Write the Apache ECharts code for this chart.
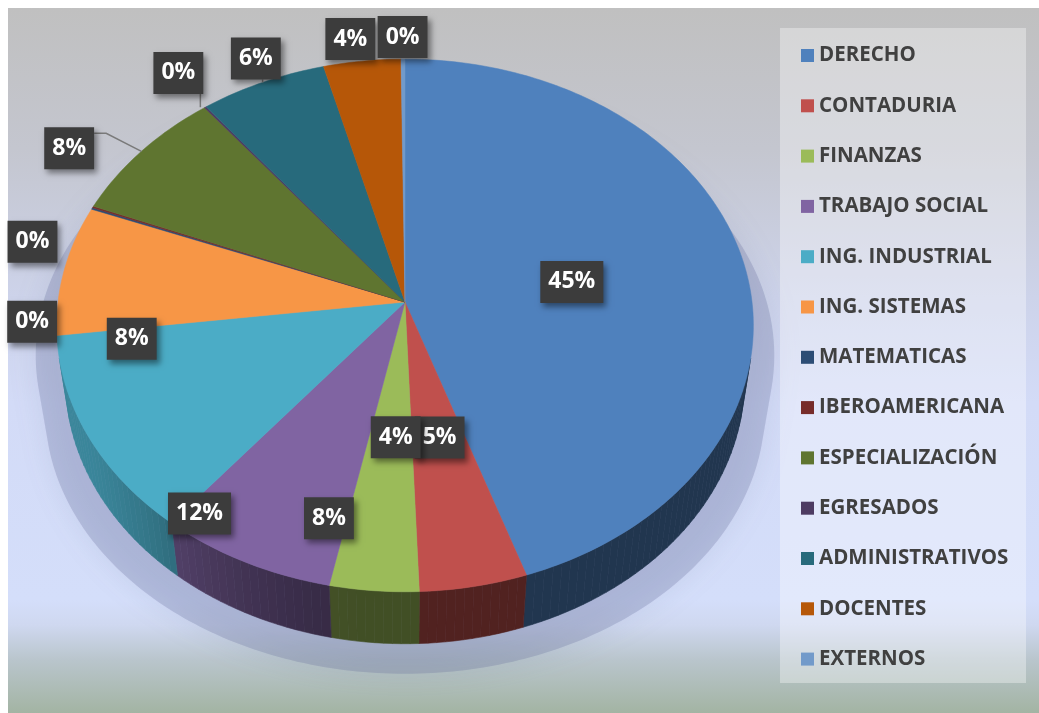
<!DOCTYPE html>
<html>
<head>
<meta charset="utf-8">
<script src="https://cdn.jsdelivr.net/npm/echarts@6/dist/echarts.min.js"></script>
<style>
  html, body { margin: 0; padding: 0; background: #ffffff; }
  #chart { width: 1039px; height: 713px; }
</style>
</head>
<body>
<div id="chart"></div>
<script>
// Respondents by group, in percent of the total
const categories = ['DERECHO', 'CONTADURIA', 'FINANZAS', 'TRABAJO SOCIAL', 'ING. INDUSTRIAL',
  'ING. SISTEMAS', 'MATEMATICAS', 'IBEROAMERICANA', 'ESPECIALIZACIÓN', 'EGRESADOS',
  'ADMINISTRATIVOS', 'DOCENTES', 'EXTERNOS'];
const shares = [44.8, 4.6, 3.8, 7.6, 12.2, 7.9, 0.1, 0.1, 8.3, 0.1, 6.4, 3.9, 0.2];
const colors = ['#4f81bd', '#c0504d', '#9bbb59', '#8064a2', '#4bacc6', '#f79646', '#2c4d75',
  '#772c2a', '#5f7530', '#4d3b62', '#276a7c', '#b65708', '#729aca'];

// Label anchor for each slice: [radius fraction, angle in degrees clockwise from 12 o'clock]
const labelPlace = [[0.49, 81], [0.5, 169], [0.49, 183], [0.79, 195], [0.93, 216.5], [0.79, 260],
  [1.07, 266], [1.12, 282], [1.19, 301], [1.175, 323], [1.107, 335], [1.104, 351], [1.1, 359.6]];
const hasLeader = [false, false, false, false, false, false, false, false, true, true, true, false, false];

// ---- slice angles from the values ----
const total = shares.reduce((a, b) => a + b, 0);
const bounds = [];
(function () {
  let acc = 0;
  shares.forEach(v => { const a0 = acc / total * 360; acc += v; bounds.push([a0, acc / total * 360]); });
})();
const pctText = v => Math.round(v / total * 100) + '%';

// ---- perspective view of a flat cylinder (radius 1, height H) ----
const VIEW = { cx: 405, cy: 302, D: 7.36, f: 2554, tilt: 49.6, H: 0.25 };
const SP = Math.sin(VIEW.tilt * Math.PI / 180), CP = Math.cos(VIEW.tilt * Math.PI / 180);
function project(r, deg, y) {
  const t = deg * Math.PI / 180;
  const X = r * Math.sin(t), Z = r * Math.cos(t);
  const yc = y * CP + Z * SP;
  const zc = VIEW.D + Z * CP - y * SP;
  return [VIEW.cx + VIEW.f * X / zc, VIEW.cy - VIEW.f * yc / zc];
}
// outer wall faces the viewer where cos(theta) < -1/(D cos(tilt))
const VIS = Math.acos(-1 / (VIEW.D * CP)) * 180 / Math.PI;
const visMin = VIS, visMax = 360 - VIS;

function shade(hex, k) {
  const n = parseInt(hex.slice(1), 16);
  const r = Math.round(((n >> 16) & 255) * k), g = Math.round(((n >> 8) & 255) * k), b = Math.round((n & 255) * k);
  return 'rgb(' + r + ',' + g + ',' + b + ')';
}
function wallFactor(deg) {
  let t = Math.min(1, Math.max(0, (deg - 185) / 60));
  t = t * t * (3 - 2 * t);
  return 0.42 + 0.36 * t;
}

function arcPoints(a0, a1, r, y) {
  const pts = [];
  const n = Math.max(1, Math.ceil((a1 - a0) / 1));
  for (let k = 0; k <= n; k++) pts.push(project(r, a0 + (a1 - a0) * k / n, y));
  return pts;
}

// soft floor shadow under the solid
function silhouette() {
  const pts = [];
  for (let d = 0; d < 360; d += 1) {
    const onTop = Math.cos(d * Math.PI / 180) > -1 / (VIEW.D * CP);
    const p = project(1, d, onTop ? 0 : -VIEW.H);
    pts.push([VIEW.cx + (p[0] - VIEW.cx) * 1.06, p[1] + 30]);
  }
  return pts;
}

function renderItem(params, api) {
  const i = params.dataIndex;
  const [a0, a1] = bounds[i];
  const children = [];

  if (i === 0) {
    children.push({
      type: 'polygon', z2: -5, silent: true,
      shape: { points: silhouette() },
      style: { fill: 'rgba(95,105,150,0.26)', shadowBlur: 30, shadowColor: 'rgba(95,105,150,0.5)' }
    });
  }

  // outer wall
  const w0 = Math.max(a0, visMin), w1 = Math.min(a1, visMax);
  if (w1 > w0) {
    const n = Math.max(1, Math.ceil((w1 - w0) / 1.5));
    for (let k = 0; k < n; k++) {
      const s = w0 + (w1 - w0) * k / n, e = w0 + (w1 - w0) * (k + 1) / n;
      const c = shade(colors[i], wallFactor((s + e) / 2));
      children.push({
        type: 'polygon', z2: 1,
        shape: { points: [project(1, s, 0), project(1, e, 0), project(1, e, -VIEW.H), project(1, s, -VIEW.H)] },
        style: { fill: c, stroke: c, lineWidth: 0.6 }
      });
    }
  }

  // top face
  const top = [project(0, 0, 0)].concat(arcPoints(a0, a1, 1, 0));
  children.push({
    type: 'polygon', z2: 5,
    shape: { points: top },
    style: { fill: colors[i], stroke: colors[i], lineWidth: 0.5 }
  });

  // value label
  const lp = project(labelPlace[i][0], labelPlace[i][1], 0);
  const boxH = 42;
  children.push({
    type: 'text', z2: 20, x: lp[0], y: lp[1],
    style: {
      text: pctText(shares[i]),
      fill: '#ffffff',
      font: 'bold 23px "Open Sans"',
      lineHeight: 26,
      align: 'center', verticalAlign: 'middle',
      backgroundColor: '#3c3c3c',
      padding: [8, 8, 8, 8],
      shadowBlur: 6, shadowOffsetX: 3, shadowOffsetY: 4, shadowColor: 'rgba(0,0,0,0.45)'
    }
  });

  if (hasLeader[i]) {
    const mid = (a0 + a1) / 2;
    const rim = project(1, mid, 0);
    const bottom = lp[1] + boxH / 2;
    let pts;
    if (rim[1] > bottom + 2 && rim[0] < lp[0] + 32) {
      const x = Math.min(rim[0], lp[0] + 22);
      pts = [[x, bottom], [x, rim[1]]];
    } else {
      const right = lp[0] + 25;
      const y = lp[1] - 15;
      pts = [[right, y], [right + 12, y], rim];
    }
    children.push({
      type: 'polyline', z2: 15, silent: true,
      shape: { points: pts },
      style: { stroke: '#7a7a7a', lineWidth: 1.5, fill: null }
    });
  }

  return { type: 'group', children };
}

const chart = echarts.init(document.getElementById('chart'), null, { renderer: 'canvas' });
chart.setOption({
  animation: false,
  backgroundColor: '#ffffff',
  color: colors,
  graphic: [
    {
      type: 'rect', z: -10, silent: true,
      shape: { x: 8, y: 8, width: 1031, height: 705 },
      style: {
        fill: new echarts.graphic.LinearGradient(0, 0, 0, 1, [
          { offset: 0, color: '#c0c0c0' },
          { offset: 0.2, color: '#c4c6cf' },
          { offset: 0.41, color: '#cdd3ea' },
          { offset: 0.56, color: '#d3dbf7' },
          { offset: 0.84, color: '#d4defa' },
          { offset: 0.875, color: '#cfd8f0' },
          { offset: 0.925, color: '#b9c5cc' },
          { offset: 1, color: '#a3b4a3' }
        ])
      }
    },
    {
      type: 'rect', z: 3, silent: true,
      shape: { x: 780, y: 28, width: 246, height: 655 },
      style: { fill: 'rgba(255,255,255,0.34)' }
    }
  ],
  legend: {
    orient: 'vertical',
    left: 801, top: 45,
    padding: 0,
    data: categories,
    icon: 'rect',
    itemWidth: 13, itemHeight: 13,
    itemGap: 29.3,
    selectedMode: false,
    textStyle: { fontFamily: 'Open Sans', fontWeight: 'bold', fontSize: 20.5, lineHeight: 20, color: '#404040' }
  },
  series: [
    {
      // supplies the legend entries and colours
      type: 'pie', radius: [0, 0], center: [405, 302], silent: true,
      label: { show: false }, labelLine: { show: false },
      data: categories.map((c, i) => ({ name: c, value: shares[i] }))
    },
    {
      type: 'custom',
      name: 'Participación',
      coordinateSystem: 'none',
      renderItem: renderItem,
      data: shares.map((v, i) => ({ name: categories[i], value: v }))
    }
  ]
});
</script>
</body>
</html>
